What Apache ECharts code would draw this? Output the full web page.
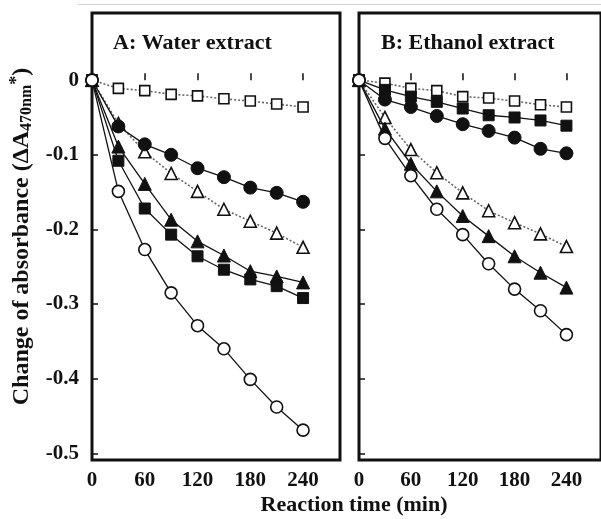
<!DOCTYPE html>
<html>
<head>
<meta charset="utf-8">
<script src="https://cdn.jsdelivr.net/npm/echarts@6/dist/echarts.min.js"></script>
<style>html,body{margin:0;padding:0;background:#fff;}#c{width:601px;height:519px;}</style>
</head>
<body>
<div id="c"></div>
<script>
const times = [0, 30, 60, 90, 120, 150, 180, 210, 240];
const xTicks = [0, 60, 120, 180, 240];
const yTicks = [0, -0.1, -0.2, -0.3, -0.4, -0.5];

// Panel A: Water extract
const aOpenSquare     = [0, -0.011, -0.014, -0.019, -0.021, -0.025, -0.028, -0.032, -0.036];
const aOpenTriangle   = [0, -0.058, -0.096, -0.125, -0.149, -0.173, -0.189, -0.205, -0.224];
const aFilledCircle   = [0, -0.062, -0.086, -0.100, -0.118, -0.130, -0.144, -0.151, -0.163];
const aFilledTriangle = [0, -0.089, -0.139, -0.187, -0.216, -0.235, -0.256, -0.263, -0.271];
const aFilledSquare   = [0, -0.108, -0.172, -0.207, -0.236, -0.254, -0.267, -0.276, -0.292];
const aOpenCircle     = [0, -0.149, -0.227, -0.285, -0.329, -0.360, -0.401, -0.438, -0.469];

// Panel B: Ethanol extract
const bOpenSquare     = [0, -0.004, -0.011, -0.014, -0.022, -0.024, -0.028, -0.033, -0.036];
const bFilledSquare   = [0, -0.013, -0.022, -0.029, -0.038, -0.047, -0.050, -0.054, -0.061];
const bFilledCircle   = [0, -0.026, -0.036, -0.048, -0.059, -0.068, -0.077, -0.092, -0.098];
const bOpenTriangle   = [0, -0.050, -0.093, -0.124, -0.151, -0.175, -0.191, -0.206, -0.223];
const bFilledTriangle = [0, -0.065, -0.112, -0.149, -0.182, -0.209, -0.236, -0.258, -0.278];
const bOpenCircle     = [0, -0.078, -0.128, -0.173, -0.207, -0.246, -0.280, -0.309, -0.341];

const FONT = '"Liberation Serif", "Times New Roman", serif';
const pair = arr => times.map((t, i) => [t, arr[i]]);

function mk(data, gi, symbol, filled, dotted, size, z) {
  return {
    type: 'line', xAxisIndex: gi, yAxisIndex: gi, data: pair(data),
    symbol: symbol, symbolSize: size, showSymbol: true, clip: false, z: z,
    lineStyle: dotted ? {color: '#666', width: 1.6, type: [2, 2]} : {color: '#111', width: 1.3},
    itemStyle: filled ? {color: '#111', borderColor: '#111', borderWidth: 1}
                      : {color: '#fff', borderColor: '#111', borderWidth: 1.6},
    emphasis: {disabled: true}, animation: false
  };
}

function xAxis(gi, max) {
  return {
    type: 'value', gridIndex: gi, min: 0, max: max,
    axisLine: {show: false}, splitLine: {show: false},
    axisTick: {show: true, inside: true, length: 7, lineStyle: {color: '#111', width: 1.5}, customValues: xTicks},
    axisLabel: {customValues: xTicks, color: '#111', fontFamily: FONT, fontWeight: 'bold', fontSize: 21, margin: 10}
  };
}
function yAxis(gi, showLabels) {
  const ax = {
    type: 'value', gridIndex: gi, min: -0.509, max: 0.09,
    axisLine: {show: false}, splitLine: {show: false},
    axisTick: {show: true, inside: true, length: 6, lineStyle: {color: '#111', width: 1.5}, customValues: yTicks},
    axisLabel: {show: showLabels, customValues: yTicks, color: '#111', fontFamily: FONT, fontWeight: 'bold', fontSize: 21, margin: 13,
      formatter: v => (Math.abs(v) < 1e-9 ? '0' : String(Math.round(v * 10) / 10))}
  };
  if (showLabels) {
    ax.name = '{m|Change of absorbance (ΔA}{sub|470nm}{sup|*}{m|)}';
    ax.nameLocation = 'middle';
    ax.nameRotate = 90;
    ax.nameGap = 57;
    ax.nameTextStyle = {
      color: '#111', fontFamily: FONT, fontWeight: 'bold', fontSize: 24,
      rich: {
        m: {fontFamily: FONT, fontWeight: 'bold', fontSize: 24, color: '#111', lineHeight: 27},
        sub: {fontFamily: FONT, fontWeight: 'bold', fontSize: 16, color: '#111', lineHeight: 15, verticalAlign: 'bottom'},
        sup: {fontFamily: FONT, fontWeight: 'bold', fontSize: 18, color: '#111', lineHeight: 15, verticalAlign: 'top'}
      }
    };
  }
  return ax;
}

const chart = echarts.init(document.getElementById('c'), null, {renderer: 'canvas'});
chart.setOption({
  animation: false,
  backgroundColor: '#fff',
  grid: [
    {left: 92, top: 13, width: 248, height: 447, show: true, borderColor: '#111', borderWidth: 3, backgroundColor: '#fff'},
    {left: 359, top: 13, width: 248, height: 447, show: true, borderColor: '#111', borderWidth: 3, backgroundColor: '#fff'}
  ],
  xAxis: [xAxis(0, 282), xAxis(1, 280)],
  yAxis: [yAxis(0, true), yAxis(1, false)],
  graphic: [
    {type: 'line', shape: {x1: 78, y1: 4.5, x2: 601, y2: 4.5}, style: {stroke: '#d4d4d4', lineWidth: 1}, silent: true},
    {type: 'text', x: 113, y: 43, style: {text: 'A: Water extract', fill: '#111', font: 'bold 22px ' + FONT, textAlign: 'left', textVerticalAlign: 'middle'}},
    {type: 'text', x: 381, y: 43, style: {text: 'B: Ethanol extract', fill: '#111', font: 'bold 22px ' + FONT, textAlign: 'left', textVerticalAlign: 'middle'}},
    {type: 'text', x: 354, y: 505, style: {text: 'Reaction time (min)', fill: '#111', font: 'bold 22px ' + FONT, textAlign: 'center', textVerticalAlign: 'middle'}}
  ],
  series: [
    mk(aOpenSquare, 0, 'rect', false, true, 10, 2),
    mk(aOpenTriangle, 0, 'triangle', false, true, 12, 2),
    mk(aFilledCircle, 0, 'circle', true, false, 13, 3),
    mk(aFilledTriangle, 0, 'triangle', true, false, 13, 3),
    mk(aFilledSquare, 0, 'rect', true, false, 11, 3),
    mk(aOpenCircle, 0, 'circle', false, false, 12, 4),
    mk(bOpenSquare, 1, 'rect', false, true, 10, 2),
    mk(bOpenTriangle, 1, 'triangle', false, true, 12, 2),
    mk(bFilledSquare, 1, 'rect', true, false, 11, 3),
    mk(bFilledCircle, 1, 'circle', true, false, 13, 3),
    mk(bFilledTriangle, 1, 'triangle', true, false, 13, 3),
    mk(bOpenCircle, 1, 'circle', false, false, 12, 4)
  ]
});
</script>
</body>
</html>
